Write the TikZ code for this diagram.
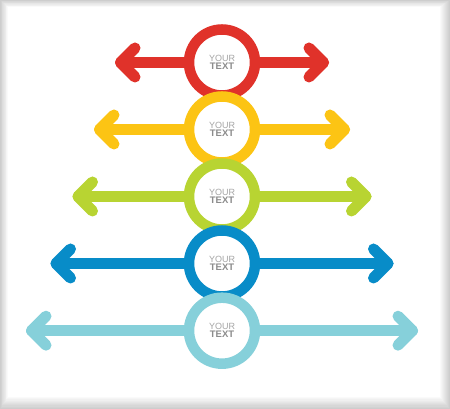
\documentclass[tikz,border=0pt]{standalone}
\usepackage{fontspec}
\setmainfont{Liberation Sans}
\definecolor{edge}{RGB}{205,205,205}
\definecolor{cred}{HTML}{E0322A}
\definecolor{cyellow}{HTML}{FCC414}
\definecolor{cgreen}{HTML}{B8D432}
\definecolor{cblue}{HTML}{088CC8}
\definecolor{clight}{HTML}{86D0DA}
\definecolor{yourgray}{RGB}{165,165,165}
\definecolor{textgray}{RGB}{140,140,140}
\tikzset{
  ring/.style={circle, draw=#1, line width=10.5pt, fill=white, minimum size=66pt, inner sep=0pt,
    align=center, font=\fontsize{9}{8.5}\selectfont},
  arrline/.style={draw=#1, line width=11pt, line cap=round, line join=round},
}
\newcommand{\yt}{{\color{yourgray}YOUR}\\[-0.5pt]{\color{textgray}\fontsize{9.5}{8.5}\selectfont\bfseries TEXT}}
\begin{document}
\begin{tikzpicture}[x=1pt,y=1pt]
\useasboundingbox (0,0) rectangle (450,409);
\foreach \k in {0,...,10}{
  \pgfmathtruncatemacro\p{\k*10}
  \fill[white!\p!edge] (\k*0.8, \k*1.2) rectangle (450-\k*1.0, 409-\k*0.7);
}
% rows: name/color/y/halflength(vertex)
\foreach \n/\c/\y/\h in {1/cred/346.5/101.5, 2/cyellow/279.5/122.5, 3/cgreen/212.5/144, 4/cblue/145.5/166, 5/clight/78.3/190.5}{
  \coordinate (l\n) at (222-\h, \y);
  \coordinate (r\n) at (222+\h, \y);
  \coordinate (m\n) at (222, \y);
  \draw[arrline=\c] (l\n) -- (r\n);
  \draw[arrline=\c] (l\n) ++(14.5,14.5) -- (l\n) -- ++(14.5,-14.5);
  \draw[arrline=\c] (r\n) ++(-14.5,14.5) -- (r\n) -- ++(-14.5,-14.5);
  \node[ring=\c] (c\n) at (m\n) {\yt};
}
\end{tikzpicture}
\end{document}
